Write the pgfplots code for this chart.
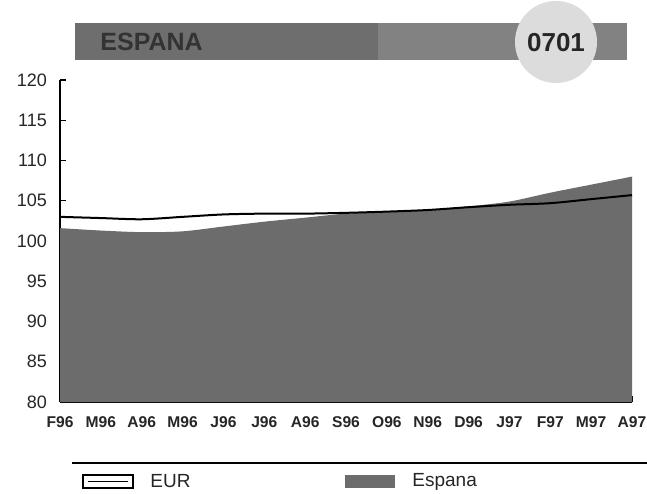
\documentclass[border=0pt]{standalone}
\usepackage{fontspec}
\setmainfont{Liberation Sans}
\usepackage{pgfplots}
\pgfplotsset{compat=1.18}
\definecolor{areagray}{HTML}{6C6C6C}
\definecolor{bardark}{HTML}{6E6E6E}
\definecolor{barlight}{HTML}{828282}
\definecolor{circgray}{HTML}{DCDCDC}
\begin{document}
\begin{tikzpicture}
\path[use as bounding box, fill=white] (0,0) rectangle (323.5pt,246.5pt);
% header bar
\fill[bardark] (37.5pt,216.5pt) rectangle (189pt,235pt);
\fill[barlight] (189pt,216.5pt) rectangle (313.5pt,235pt);
\fill[circgray] (278pt,225.5pt) circle (20.5pt);
\node[anchor=west, inner sep=0pt, text=black!80, font=\bfseries\fontsize{12.5}{14}\selectfont] at (50pt,225.75pt) {ESPANA};
\node[inner sep=0pt, text=black!85, font=\bfseries\fontsize{13}{15}\selectfont] at (278pt,225pt) {0701};
\begin{axis}[
    at={(30pt,45.5pt)}, anchor=south west,
    scale only axis, width=286pt, height=161pt,
    xmin=0, xmax=14, ymin=80, ymax=120,
    axis lines*=left,
    axis line style={-, line width=0.8pt},
    tick align=inside,
    major tick length=3pt,
    tick style={black, line width=0.6pt},
    xtick={0,...,14},
    xticklabels={F96,M96,A96,M96,J96,J96,A96,S96,O96,N96,D96,J97,F97,M97,A97},
    ytick={80,85,...,120},
    /pgf/number format/assume math mode=true,
    yticklabel style={font=\fontsize{9}{10}\selectfont, text=black!85, xshift=-3pt},
    xticklabel style={font=\bfseries\fontsize{7.8}{9}\selectfont, text=black!85, yshift=-4pt},
    clip=false,
]
\addplot[fill=areagray, draw=none, smooth, tension=0.5] coordinates {
(0,101.6) (1,101.3) (2,101.1) (3,101.2) (4,101.8) (5,102.4) (6,102.9) (7,103.4)
(8,103.6) (9,103.85) (10,104.3) (11,104.9) (12,106.0) (13,107.0) (14,108.0)
} \closedcycle;
\addplot[black, line width=1pt, smooth, tension=0.5] coordinates {
(0,103.0) (1,102.85) (2,102.7) (3,103.0) (4,103.3) (5,103.4) (6,103.4) (7,103.5)
(8,103.65) (9,103.85) (10,104.2) (11,104.5) (12,104.7) (13,105.2) (14,105.7)
};
\end{axis}
% legend
\draw[line width=0.6pt] (36pt,15pt) -- (323.5pt,15pt);
\draw[line width=0.7pt, fill=white] (41.5pt,2.5pt) rectangle (66.5pt,9pt);
\draw[line width=0.7pt] (44pt,5.75pt) -- (64pt,5.75pt);
\node[anchor=west, inner sep=0pt, text=black!85, font=\fontsize{9.5}{11}\selectfont] at (75pt,5.75pt) {EUR};
\fill[areagray] (172.5pt,2.5pt) rectangle (197.5pt,9pt);
\node[anchor=west, inner sep=0pt, text=black!85, font=\fontsize{9.5}{11}\selectfont] at (206pt,5.75pt) {Espana};
\end{tikzpicture}
\end{document}
